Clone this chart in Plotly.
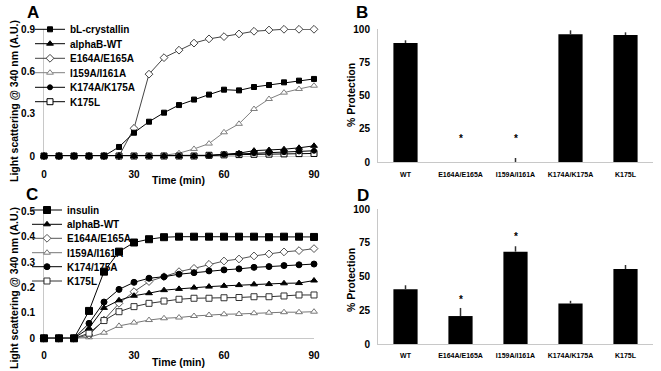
import plotly.graph_objects as go

# ---------------- data ----------------
time_min = [0, 5, 10, 15, 20, 25, 30, 35, 40, 45, 50, 55, 60, 65, 70, 75, 80, 85, 90]

# Panel A (bL-crystallin aggregation)
a_names = ["bL-crystallin", "alphaB-WT", "E164A/E165A", "I159A/I161A", "K174A/K175A", "K175L"]
a_bl = [0, 0, 0, 0, 0, 0.064, 0.165, 0.243, 0.307, 0.361, 0.400, 0.435, 0.470, 0.465, 0.489, 0.503, 0.522, 0.534, 0.546]
a_wt = [0, 0, 0, 0, 0, 0, 0, 0, 0, 0, 0, 0.003, 0.012, 0.020, 0.038, 0.042, 0.048, 0.058, 0.072]
a_e164 = [0, 0, 0, 0, 0, 0, 0.196, 0.580, 0.697, 0.750, 0.800, 0.830, 0.846, 0.865, 0.884, 0.893, 0.898, 0.898, 0.898]
a_i159 = [0, 0, 0, 0, 0, 0, 0, 0, 0.005, 0.020, 0.050, 0.088, 0.168, 0.228, 0.333, 0.404, 0.449, 0.475, 0.498]
a_k174 = [0, 0, 0, 0, 0, 0, 0, 0, 0, 0, 0, 0.003, 0.010, 0.015, 0.020, 0.022, 0.027, 0.032, 0.037]
a_k175 = [0, 0, 0, 0, 0, 0, 0, 0, 0, 0, 0, 0.005, 0.008, 0.010, 0.012, 0.013, 0.015, 0.017, 0.018]

# Panel C (insulin aggregation)
c_names = ["insulin", "alphaB-WT", "E164A/E165A", "I159A/I161A", "K174/175A", "K175L"]
c_ins = [0, 0, 0, 0.108, 0.263, 0.342, 0.378, 0.391, 0.399, 0.401, 0.401, 0.401, 0.401, 0.401, 0.401, 0.399, 0.401, 0.401, 0.400]
c_wt = [0, 0, 0, 0.040, 0.120, 0.150, 0.168, 0.178, 0.190, 0.195, 0.200, 0.204, 0.207, 0.210, 0.213, 0.214, 0.217, 0.218, 0.228]
c_e164 = [0, 0, 0, 0.013, 0.072, 0.138, 0.184, 0.224, 0.243, 0.263, 0.276, 0.292, 0.305, 0.313, 0.325, 0.333, 0.341, 0.346, 0.354]
c_i159 = [0, 0, 0, 0.004, 0.022, 0.049, 0.062, 0.072, 0.079, 0.082, 0.088, 0.092, 0.095, 0.096, 0.099, 0.101, 0.103, 0.103, 0.105]
c_k174 = [0, 0, 0, 0.059, 0.143, 0.193, 0.221, 0.237, 0.243, 0.253, 0.259, 0.266, 0.270, 0.274, 0.280, 0.283, 0.287, 0.290, 0.293]
c_k175 = [0, 0, 0, 0.020, 0.070, 0.105, 0.125, 0.138, 0.147, 0.154, 0.158, 0.158, 0.160, 0.161, 0.164, 0.164, 0.167, 0.171, 0.171]

# Panels B and D (% protection)
bar_cats = ["WT", "E164A/E165A", "I159A/I161A", "K174A/K175A", "K175L"]
b_prot = [89.5, 0, 0, 96, 95.5]
b_err = [2, 0, 3, 3, 2]
b_star = [None, 18, 18, None, None]
d_prot = [40.5, 20.7, 68.4, 30, 55.5]
d_err = [3, 6, 4, 2, 3]
d_star = [None, 33, 79.5, None, None]

# ---------------- layout helpers ----------------
W, H = 661, 371
def px(x):
    return x / W
def py(y):
    return 1 - y / H

FONT = "Liberation Sans, Arial, sans-serif"
tickfont = dict(family=FONT, size=10, color="black", weight="bold")
AXC = "#c8c8c8"

fig = go.Figure()

# styles: (symbol, size, line color, marker fill, marker line color)
a_styles = [
    ("square", 5, "black", "black", "black"),
    ("triangle-up", 6, "black", "black", "black"),
    ("diamond", 6, "#444444", "white", "#444444"),
    ("triangle-up", 6, "#808080", "white", "#808080"),
    ("circle", 5, "black", "black", "black"),
    ("square", 6, "black", "white", "black"),
]
c_styles = [
    ("square", 7, "black", "black", "black"),
    ("triangle-up", 6, "black", "black", "black"),
    ("diamond", 6, "#555555", "white", "#555555"),
    ("triangle-up", 6, "#777777", "white", "#777777"),
    ("circle", 6, "black", "black", "black"),
    ("square", 6, "#333333", "white", "#333333"),
]

a_series = [a_bl, a_wt, a_e164, a_i159, a_k174, a_k175]
c_series = [c_ins, c_wt, c_e164, c_i159, c_k174, c_k175]

# legend positions (pixel y of each entry)
a_leg_y = [29.3, 43.7, 58.3, 72.7, 87.3, 101.7]
c_leg_y = [210, 224.3, 238.3, 252.7, 266.7, 281]
leg_x_px = {"A": 30, "C": 27}

# draw order: put filled black series on top
order = [3, 2, 5, 4, 1, 0]
legend_layouts = {}
for panel, names, series, styles, xa, ya, legy in [
    ("A", a_names, a_series, a_styles, "x", "y", a_leg_y),
    ("C", c_names, c_series, c_styles, "x3", "y3", c_leg_y),
]:
    for i in order:
        sym, size, lc, fc, mlc = styles[i]
        lname = "legend" if (panel == "A" and i == 0) else f"legend{(0 if panel == 'A' else 6) + i + 1}"
        fig.add_trace(go.Scatter(
            x=time_min, y=series[i], name=names[i], mode="lines+markers",
            xaxis=xa, yaxis=ya, legend=lname, cliponaxis=False,
            line=dict(color=lc, width=1),
            marker=dict(symbol=sym, size=size, color=fc, line=dict(color=mlc, width=1)),
        ))
        legend_layouts[lname] = dict(
            x=px(leg_x_px[panel]), y=py(legy[i]), xanchor="left", yanchor="middle",
            bgcolor="rgba(0,0,0,0)", borderwidth=0, itemwidth=30,
            font=dict(family=FONT, size=10, color="black", weight="bold"),
            tracegroupgap=0,
        )

# bars
for vals, errs, xa, ya in [(b_prot, b_err, "x2", "y2"), (d_prot, d_err, "x4", "y4")]:
    fig.add_trace(go.Bar(
        x=bar_cats, y=vals, xaxis=xa, yaxis=ya, showlegend=False,
        marker=dict(color="black", line=dict(width=0)),
        error_y=dict(type="data", array=errs, arrayminus=[0] * len(errs), symmetric=False,
                     color="#333333", thickness=1.5, width=0),
    ))

annotations = []
for stars, xr, yr in [(b_star, "x2", "y2"), (d_star, "x4", "y4")]:
    for cat, s in zip(bar_cats, stars):
        if s is not None:
            annotations.append(dict(x=cat, y=s, xref=xr, yref=yr, text="*", showarrow=False,
                                    font=dict(family=FONT, size=10, color="black", weight="bold"),
                                    yanchor="middle"))

# panel letters
for letter, x, y in [("A", 33, 12), ("B", 362, 12), ("C", 32, 195), ("D", 363, 195.5)]:
    annotations.append(dict(x=px(x), y=py(y), xref="paper", yref="paper", text=letter, showarrow=False,
                            xanchor="center", yanchor="middle",
                            font=dict(family=FONT, size=17, color="black", weight="bold")))

# axis titles
titlefont = dict(family=FONT, size=10.5, color="black", weight="bold")
for txt, x, y, ang in [
    ("Light scattering @ 340 nm (A.U.)", 14, 101, -90),
    ("Light scattering @ 340 nm (A.U.)", 14, 288, -90),
    ("% Protection", 351, 95, -90),
    ("% Protection", 351, 280, -90),
    ("Time (min)", 178, 180, 0),
    ("Time (min)", 178, 362, 0),
]:
    annotations.append(dict(x=px(x), y=py(y), xref="paper", yref="paper", text=txt, showarrow=False,
                            xanchor="center", yanchor="middle", textangle=ang, font=titlefont))

common_lin_x = dict(range=[0, 90], tickvals=[0, 30, 60, 90], showgrid=False, zeroline=False,
                    showline=True, linecolor=AXC, linewidth=1, ticks="", tickfont=tickfont,
                    layer="below traces")
common_y = dict(showgrid=False, zeroline=False, showline=True, linecolor=AXC, linewidth=1,
                ticks="", tickfont=tickfont, layer="below traces")
bar_x = dict(type="category", showgrid=False, zeroline=False, showline=True, linecolor=AXC,
             linewidth=1, ticks="", tickfont=dict(family=FONT, size=7, color="black", weight="bold"),
             range=[-0.5, 4.5])

fig.update_layout(
    width=W, height=H, margin=dict(l=0, r=0, t=0, b=0, autoexpand=False),
    paper_bgcolor="white", plot_bgcolor="white",
    bargap=0.56,
    xaxis=dict(domain=[px(44), px(314)], anchor="y", ticklabelstandoff=9, **common_lin_x),
    yaxis=dict(domain=[py(156), py(29)], anchor="x", range=[0, 0.9],
               tickvals=[0, 0.3, 0.6, 0.9], ticktext=["0", "0.3", "0.6", "0.9"],
               ticklabelstandoff=6, **common_y),
    xaxis3=dict(domain=[px(44), px(314)], anchor="y3", ticklabelstandoff=8, **common_lin_x),
    yaxis3=dict(domain=[py(338.3), py(211.6)], anchor="x3", range=[0, 0.5],
                tickvals=[0, 0.1, 0.2, 0.3, 0.4, 0.5], ticktext=["0", "0.1", "0.2", "0.3", "0.4", "0.5"],
                ticklabelstandoff=6, **common_y),
    xaxis2=dict(domain=[px(378), px(653)], anchor="y2", ticklabelstandoff=6, **bar_x),
    yaxis2=dict(domain=[py(162), py(29)], anchor="x2", range=[0, 100], tickvals=[0, 25, 50, 75, 100],
                ticklabelstandoff=5, **common_y),
    xaxis4=dict(domain=[px(378), px(653)], anchor="y4", ticklabelstandoff=5, **bar_x),
    yaxis4=dict(domain=[py(344), py(209)], anchor="x4", range=[0, 100], tickvals=[0, 25, 50, 75, 100],
                ticklabelstandoff=5, **common_y),
    annotations=annotations,
    **legend_layouts,
)

# remove the browser's default 8px body margin so the figure sits at the page origin
fig.write_html("out.html", config={"displayModeBar": False},
               post_script="document.body.style.margin='0px';")
